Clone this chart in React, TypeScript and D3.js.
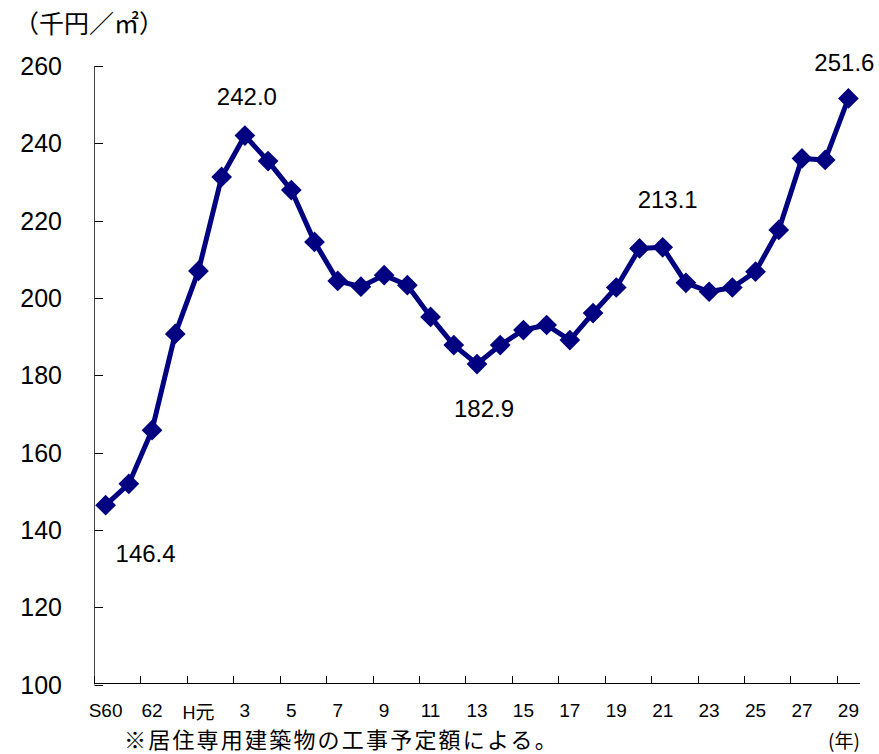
import React from "react";
import * as d3 from "d3";

const categories = [
  "S60", "61", "62", "63", "H元", "2", "3", "4", "5", "6", "7", "8", "9", "10",
  "11", "12", "13", "14", "15", "16", "17", "18", "19", "20", "21", "22", "23",
  "24", "25", "26", "27", "28", "29",
];
const values = [
  146.4, 151.9, 165.8, 190.7, 207.0, 231.3, 242.0, 235.4, 227.9, 214.5, 204.4,
  202.9, 205.9, 203.3, 195.1, 187.8, 182.9, 187.8, 191.7, 193.0, 189.1, 196.1,
  202.7, 212.8, 213.1, 203.9, 201.6, 202.7, 206.8, 217.6, 236.1, 235.7, 251.6,
];
const shownTickLabels = [
  "S60", "62", "H元", "3", "5", "7", "9", "11", "13", "15", "17", "19", "21",
  "23", "25", "27", "29",
];
const yTicks = [100, 120, 140, 160, 180, 200, 220, 240, 260];
const labeledPoints = ["S60", "3", "13", "21", "29"];
const labelOffsets: Record<string, [number, number]> = {
  S60: [40, 57],
  "3": [2, -31],
  "13": [7, 53],
  "21": [5, -39],
  "29": [-4, -27],
};

const W = 879;
const H = 754;
const NAVY = "#000080";
const NUM_FONT = "'Liberation Sans', Arial, sans-serif";
const JP_FONT = "'Noto Sans CJK JP', 'Noto Sans', sans-serif";

export default function App() {
  const x = d3
    .scaleBand<string>()
    .domain(categories)
    .range([94, 860])
    .padding(0);
  const y = d3.scaleLinear().domain([100, 260]).range([684.5, 66]);
  const cx = (c: string) => (x(c) as number) + x.bandwidth() / 2;

  const line = d3
    .line<number>()
    .x((_, i) => cx(categories[i]))
    .y((d) => y(d));

  const marker = d3.symbol().type(d3.symbolSquare).size(215)();

  const tickBoundaries: number[] = [];
  for (let i = 0; i <= categories.length; i += 2) {
    tickBoundaries.push(94 + i * x.bandwidth());
  }

  return (
    <svg
      width={W}
      height={H}
      style={{ position: "absolute", left: 0, top: 0, background: "#fff" }}
    >
      <rect x={0} y={0} width={W} height={H} fill="#fff" />
      {/* unit title */}
      <text x={14} y={33} fontFamily={JP_FONT} fontSize={25} fill="#000">
        （千円／㎡）
      </text>

      {/* y axis */}
      <line x1={94.5} x2={94.5} y1={66} y2={684.5} stroke="#444" strokeWidth={1} />
      {yTicks.map((t) => (
        <g key={t}>
          <line
            x1={94.5}
            x2={103}
            y1={Math.round(y(t)) + 0.5}
            y2={Math.round(y(t)) + 0.5}
            stroke="#000"
          />
          <text
            x={62}
            y={y(t)}
            dy="0.36em"
            textAnchor="end"
            fontFamily={NUM_FONT}
            fontSize={25}
            fill="#000"
          >
            {t}
          </text>
        </g>
      ))}

      {/* x axis */}
      <line x1={94} x2={860} y1={683.5} y2={683.5} stroke="#000" strokeWidth={1} />
      {tickBoundaries.map((bx, i) => (
        <line
          key={i}
          x1={Math.round(bx) + 0.5}
          x2={Math.round(bx) + 0.5}
          y1={676}
          y2={683.5}
          stroke="#000"
        />
      ))}
      {shownTickLabels.map((c) =>
        c === "H元" ? (
          <text key={c} x={cx(c)} y={719} textAnchor="middle" fill="#000">
            <tspan fontFamily={NUM_FONT} fontSize={18}>H</tspan>
            <tspan fontFamily={JP_FONT} fontSize={19}>元</tspan>
          </text>
        ) : (
          <text
            key={c}
            x={cx(c)}
            y={717}
            textAnchor="middle"
            fontFamily={NUM_FONT}
            fontSize={19}
            fill="#000"
          >
            {c}
          </text>
        )
      )}

      {/* line + markers */}
      <path d={line(values) || ""} fill="none" stroke={NAVY} strokeWidth={5} strokeLinejoin="round" />
      {values.map((v, i) => (
        <path
          key={i}
          d={marker || ""}
          transform={`translate(${cx(categories[i])},${y(v)}) rotate(45)`}
          fill={NAVY}
        />
      ))}

      {/* data labels */}
      {labeledPoints.map((c) => {
        const i = categories.indexOf(c);
        const [dx, dy] = labelOffsets[c];
        return (
          <text
            key={c}
            x={cx(c) + dx}
            y={y(values[i]) + dy}
            textAnchor="middle"
            fontFamily={NUM_FONT}
            fontSize={24}
            fill="#000"
          >
            {values[i].toFixed(1)}
          </text>
        );
      })}

      {/* footnote */}
      <text
        x={124}
        y={748}
        fontFamily={JP_FONT}
        fontSize={22}
        letterSpacing={2.2}
        fill="#000"
      >
        ※居住専用建築物の工事予定額による。
      </text>
      <text x={828} y={748} fontFamily={JP_FONT} fontSize={19} fill="#000">
        (年)
      </text>
    </svg>
  );
}
